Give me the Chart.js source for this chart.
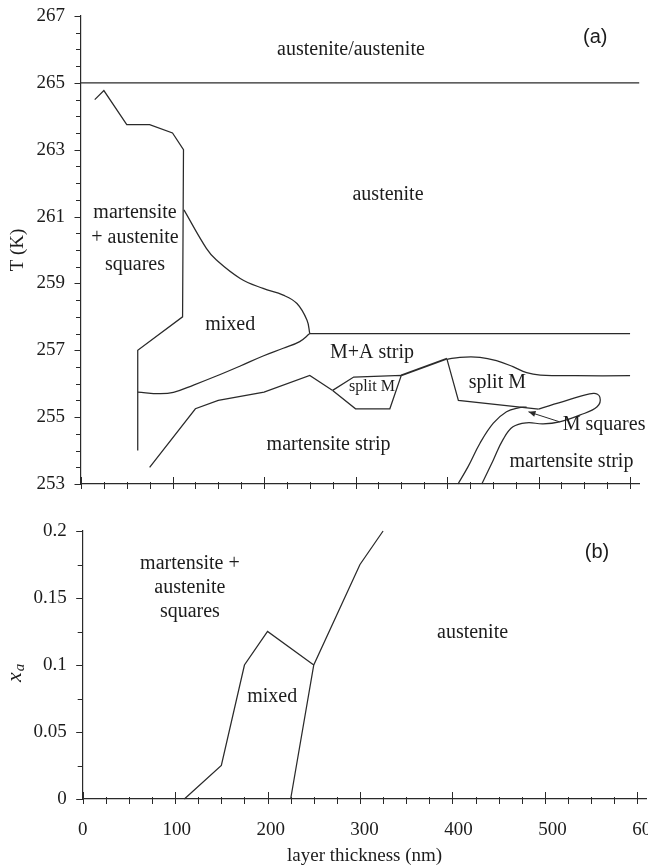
<!DOCTYPE html>
<html><head><meta charset="utf-8">
<script src="https://cdn.jsdelivr.net/npm/chart.js@4/dist/chart.umd.min.js"></script>
<style>
html,body{margin:0;padding:0;background:#fff;}
#wrap{position:relative;width:648px;height:868px;overflow:hidden;}
#c1{position:absolute;left:0;top:0;width:648px;height:500px;}
#c2{position:absolute;left:0;top:500px;width:648px;height:368px;}
</style></head><body>
<div id="wrap"><canvas id="c1" width="648" height="500"></canvas><canvas id="c2" width="648" height="368"></canvas></div>
<script>
// ---------- tick labels ----------
const xTickLabels = ['0','100','200','300','400','500','600'];
const yTickLabelsA = ['253','255','257','259','261','263','265','267'];
const yTickLabelsB = ['0','0.05','0.1','0.15','0.2'];

// ---------- panel (a): layer thickness (nm) vs T (K) ----------
const line265_x = [0, 610];
const line265_T = [265, 265];
const sqEdge_x = [15, 25, 50, 75, 100, 112, 111, 62, 62];
const sqEdge_T = [264.5, 264.77, 263.75, 263.75, 263.5, 263.0, 258.0, 257.0, 254.0];
const mixUp_x = [112.5, 137, 148, 174, 199, 221, 236, 247, 250];
const mixUp_T = [261.2, 260.05, 259.7, 259.15, 258.85, 258.65, 258.4, 257.9, 257.5];
const line2575_x = [250, 600];
const line2575_T = [257.5, 257.5];
const mixLow_x = [62, 86, 101, 123, 148, 174, 199, 221, 239, 250];
const mixLow_T = [255.75, 255.7, 255.74, 255.96, 256.23, 256.53, 256.83, 257.06, 257.26, 257.5];
const stripTop_x = [75, 125, 150, 200, 250, 275];
const stripTop_T = [253.5, 255.25, 255.5, 255.75, 256.25, 255.8];
const smallM_x = [275, 298, 350, 337.5, 300, 275];
const smallM_T = [255.8, 256.2, 256.25, 255.25, 255.25, 255.8];
const ridge_x = [350, 400];
const ridge_T = [256.25, 256.75];
const bigMTop_x = [400, 414, 436, 454, 472, 487, 502, 540, 600];
const bigMTop_T = [256.73, 256.79, 256.79, 256.69, 256.51, 256.33, 256.26, 256.24, 256.24];
const bigM_x = [400, 412.4, 500];
const bigM_T = [256.73, 255.5, 255.24];
const loop_x = [500, 531, 560, 567, 564, 545, 523, 505, 487, 472, 461, 450.6, 438];
const loop_T = [255.24, 255.5, 255.71, 255.6, 255.31, 255.06, 254.86, 254.8, 254.83, 254.71, 254.32, 253.72, 253.0];
const leftStrip_x = [412, 423, 436, 450.6, 465, 478, 487];
const leftStrip_T = [253.0, 253.52, 254.22, 254.82, 255.16, 255.28, 255.3];
const arrow_x = [523, 489];
const arrow_T = [254.86, 255.16];

// ---------- panel (b): layer thickness (nm) vs x_a ----------
const bLeft_x = [110, 150, 175, 200, 250];
const bLeft_y = [0, 0.025, 0.1, 0.125, 0.1];
const bRight_x = [225, 250, 300, 325];
const bRight_y = [0, 0.1, 0.175, 0.2];

// ---------- region labels (text, thickness, value) ----------
const labelsA_text = ['austenite/austenite','austenite','martensite','+ austenite','squares','mixed','M+A strip','split M','split M','M squares','martensite strip','martensite strip'];
const labelsA_x    = [295, 335.5, 59, 59, 59, 163, 318, 318, 455, 571.6, 270.5, 536];
const labelsA_T    = [265.98, 261.65, 261.1, 260.36, 259.55, 257.76, 256.92, 255.9, 256.02, 254.77, 254.17, 253.66];
const labelsB_text = ['martensite +','austenite','squares','mixed','austenite'];
const labelsB_x    = [116, 116, 116, 205, 421.8];
const labelsB_y    = [0.1754, 0.1575, 0.1396, 0.0764, 0.124];

// ---------- styles ----------
const SERIF = '"Liberation Serif", "DejaVu Serif", serif';
const SANS = '"Liberation Sans", Arial, sans-serif';
const INK = '#2a2a2a';
const TXT = '#1c1c1c';

function pts(xs, ys){ return xs.map((v,i)=>({x:v, y:ys[i]})); }
function ds(xs, ys, curved, w){
  return {data: pts(xs, ys), borderColor: INK, borderWidth: w || 1.25, pointRadius: 0,
          tension: curved ? 0.4 : 0, fill: false, clip: false};
}

const annot = {
  id: 'annot',
  afterDatasetsDraw(chart, args, o){
    const {ctx, chartArea: ca, scales: {x, y}} = chart;
    ctx.save();
    // tick marks
    ctx.strokeStyle = INK; ctx.lineWidth = 1;
    ctx.beginPath();
    for (let k = 0; k * o.xMinor <= 600 + 1e-9; k++) {
      const v = k * o.xMinor;
      const px = Math.round(x.getPixelForValue(v)) + 0.5;
      const major = (k % o.xMajorEvery) === 0;
      ctx.moveTo(px, ca.bottom - (major ? 7 : 2));
      ctx.lineTo(px, ca.bottom + 5);
    }
    for (let k = 0; y.min + k * o.yMinor <= y.max + 1e-9; k++) {
      const v = y.min + k * o.yMinor;
      const py = Math.round(y.getPixelForValue(v)) + 0.5;
      const major = (k % o.yMajorEvery) === 0;
      ctx.moveTo(ca.left - (major ? 6.5 : 5), py);
      ctx.lineTo(ca.left, py);
    }
    ctx.stroke();
    // arrow
    if (o.arrow) {
      const x0 = x.getPixelForValue(o.arrow[0][0]), y0 = y.getPixelForValue(o.arrow[1][0]);
      const x1 = x.getPixelForValue(o.arrow[0][1]), y1 = y.getPixelForValue(o.arrow[1][1]);
      ctx.beginPath(); ctx.moveTo(x0, y0); ctx.lineTo(x1, y1); ctx.stroke();
      const a = Math.atan2(y1 - y0, x1 - x0), L = 7, W = 3;
      ctx.beginPath();
      ctx.moveTo(x1, y1);
      ctx.lineTo(x1 - L*Math.cos(a) + W*Math.sin(a), y1 - L*Math.sin(a) - W*Math.cos(a));
      ctx.lineTo(x1 - L*Math.cos(a) - W*Math.sin(a), y1 - L*Math.sin(a) + W*Math.cos(a));
      ctx.closePath(); ctx.fillStyle = INK; ctx.fill();
    }
    // labels
    ctx.fillStyle = TXT; ctx.textAlign = 'center'; ctx.textBaseline = 'middle';
    o.text.forEach((t, i) => {
      const sz = (o.small && o.small.includes(i)) ? 16 : 20;
      ctx.font = sz + 'px ' + SERIF;
      ctx.fillText(t, x.getPixelForValue(o.tx[i]), y.getPixelForValue(o.ty[i]));
    });
    // panel tag
    ctx.font = '20px ' + SANS;
    ctx.fillText(o.tag[0], x.getPixelForValue(o.tag[1]), y.getPixelForValue(o.tag[2]));
    // custom y title (x_a)
    if (o.xaTitle) {
      ctx.save();
      ctx.translate(21, ca.top + (ca.bottom - ca.top) / 2 + 17);
      ctx.rotate(-Math.PI / 2);
      ctx.textAlign = 'left'; ctx.textBaseline = 'alphabetic';
      ctx.font = 'italic 22px ' + SERIF;
      ctx.fillText('x', 0, 0);
      const w = ctx.measureText('x').width;
      ctx.font = 'italic 15px ' + SERIF;
      ctx.fillText('a', w + 1, 3);
      ctx.restore();
    }
    ctx.restore();
  }
};

function fixX(h){ return s => { s.height = h; s.paddingLeft = 0; s.paddingRight = 0; }; }
function fixY(w){ return s => { s.width = w; s.paddingTop = 0; s.paddingBottom = 0; }; }

// ---------- chart (a) ----------
new Chart(document.getElementById('c1'), {
  type: 'line',
  data: { datasets: [
    ds(line265_x, line265_T), ds(sqEdge_x, sqEdge_T), ds(mixUp_x, mixUp_T, true),
    ds(line2575_x, line2575_T), ds(mixLow_x, mixLow_T, true), ds(stripTop_x, stripTop_T),
    ds(smallM_x, smallM_T), ds(ridge_x, ridge_T, false, 1.8), ds(bigMTop_x, bigMTop_T, true),
    ds(bigM_x, bigM_T), ds(loop_x, loop_T, true), ds(leftStrip_x, leftStrip_T, true)
  ]},
  options: {
    responsive: false, animation: false, events: [],
    layout: { padding: { top: 16, right: 8.8, left: 0, bottom: 0 } },
    plugins: { legend: {display: false}, tooltip: {enabled: false},
      annot: { xMinor: 25, xMajorEvery: 4, yMinor: 0.5, yMajorEvery: 4,
        text: labelsA_text, tx: labelsA_x, ty: labelsA_T, small: [7],
        arrow: [arrow_x, arrow_T], tag: ['(a)', 562, 266.37] } },
    scales: {
      x: { type: 'linear', min: 0, max: 610, afterFit: fixX(16),
        grid: {display: false, drawTicks: false}, border: {display: true, color: INK, width: 1.2},
        ticks: {display: false} },
      y: { type: 'linear', min: 253, max: 267, afterFit: fixY(81),
        grid: {display: false, drawTicks: false}, border: {display: true, color: INK, width: 1.2},
        ticks: { stepSize: 2, padding: 16, color: TXT, font: {family: SERIF, size: 19},
                 callback: (v, i) => yTickLabelsA[i] },
        title: { display: true, text: 'T (K)', color: TXT, font: {family: SERIF, size: 19},
                 padding: {top: 7, bottom: 0} } }
    }
  },
  plugins: [annot]
});

// ---------- chart (b) ----------
new Chart(document.getElementById('c2'), {
  type: 'line',
  data: { datasets: [ ds(bLeft_x, bLeft_y), ds(bRight_x, bRight_y) ] },
  options: {
    responsive: false, animation: false, events: [],
    layout: { padding: { top: 31, right: 1.5, left: 0, bottom: 0 } },
    plugins: { legend: {display: false}, tooltip: {enabled: false},
      annot: { xMinor: 25, xMajorEvery: 4, yMinor: 0.025, yMajorEvery: 2,
        text: labelsB_text, tx: labelsB_x, ty: labelsB_y, small: [],
        tag: ['(b)', 556.4, 0.1836], xaTitle: true } },
    scales: {
      x: { type: 'linear', min: 0, max: 610, afterFit: fixX(69),
        grid: {display: false, drawTicks: false}, border: {display: true, color: INK, width: 1.2},
        ticks: { stepSize: 100, includeBounds: false, padding: 20, color: TXT, maxRotation: 0,
                 autoSkip: false, font: {family: SERIF, size: 19}, callback: (v, i) => xTickLabels[i] },
        title: { display: true, text: 'layer thickness (nm)', color: TXT, font: {family: SERIF, size: 19},
                 padding: {top: 0, bottom: 1} } },
      y: { type: 'linear', min: 0, max: 0.2, afterFit: fixY(82.7),
        grid: {display: false, drawTicks: false}, border: {display: true, color: INK, width: 1.2},
        ticks: { stepSize: 0.05, padding: 16, color: TXT, font: {family: SERIF, size: 19},
                 callback: (v, i) => yTickLabelsB[i] } }
    }
  },
  plugins: [annot]
});
</script>
</body></html>
